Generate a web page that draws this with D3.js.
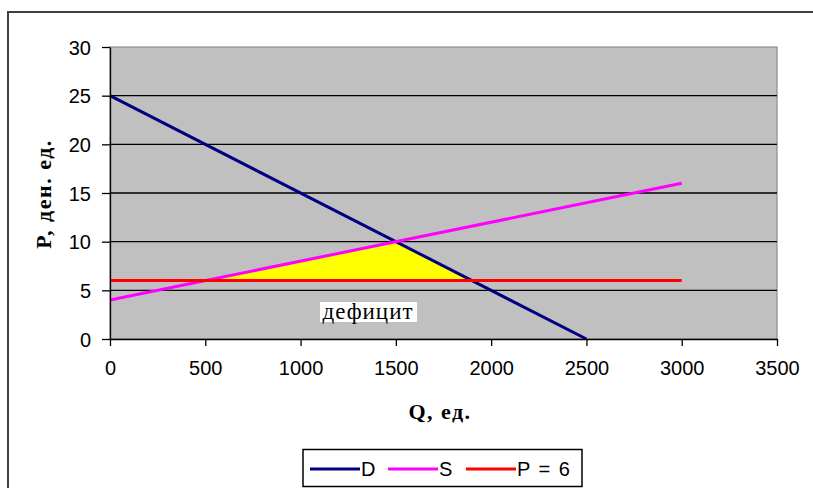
<!DOCTYPE html>
<html lang="ru">
<head>
<meta charset="UTF-8">
<title>Дефицит</title>
<script src="https://d3js.org/d3.v7.min.js"></script>
<style>
  body { margin: 0; padding: 0; background: #fff; }
  svg { display: block; }
  .tick text { font-family: "Liberation Sans", Arial, sans-serif; font-size: 20px; fill: #000; }
</style>
</head>
<body>
<div id="chart"></div>
<script>
// demand, supply, fixed price
const qD = [0, 2500];
const pD = [25, 0];
const qS = [0, 3000];
const pS = [4, 16];
const qFix = [0, 3000];
const pFix = [6, 6];
// deficit triangle (between S, D and P = 6)
const qDef = [500, 1500, 1900];
const pDef = [6, 10, 6];

const xTicks = [0, 500, 1000, 1500, 2000, 2500, 3000, 3500];
const yTicks = [0, 5, 10, 15, 20, 25, 30];

const series = [
  {name: "D", q: qD, p: pD, color: "#000080"},
  {name: "S", q: qS, p: pS, color: "#ff00ff"},
  {name: "P = 6", q: qFix, p: pFix, color: "#ff0000"}
];

const W = 813, H = 488;
const plot = {left: 110, top: 47, right: 777, bottom: 339};

const svg = d3.select("#chart").append("svg")
  .attr("width", W).attr("height", H);

// outer chart border (runs off the right and bottom edges)
svg.append("rect")
  .attr("x", 8).attr("y", 12)
  .attr("width", 840).attr("height", 500)
  .attr("fill", "#fff")
  .attr("stroke", "#404040").attr("stroke-width", 2);

const x = d3.scaleLinear().domain([0, 3500]).range([plot.left, plot.right]);
const y = d3.scaleLinear().domain([0, 30]).range([plot.bottom, plot.top]);

// plot area
svg.append("rect")
  .attr("x", plot.left).attr("y", plot.top)
  .attr("width", plot.right - plot.left).attr("height", plot.bottom - plot.top)
  .attr("fill", "#c0c0c0")
  .attr("stroke", "#8c8c8c").attr("stroke-width", 1.2);

// horizontal gridlines
svg.append("g")
  .selectAll("line")
  .data(yTicks.filter(d => d > 0 && d < 30))
  .join("line")
  .attr("x1", plot.left).attr("x2", plot.right)
  .attr("y1", d => y(d)).attr("y2", d => y(d))
  .attr("stroke", "#000").attr("stroke-width", 1.3);

// deficit area
const defPts = qDef.map((q, i) => [x(q), y(pDef[i])]);
svg.append("path")
  .attr("d", d3.line()(defPts) + "Z")
  .attr("fill", "#ffff00");

// lines
const line = d3.line();
svg.append("g")
  .selectAll("path")
  .data(series)
  .join("path")
  .attr("d", s => line(s.q.map((q, i) => [x(q), y(s.p[i])])))
  .attr("fill", "none")
  .attr("stroke", s => s.color)
  .attr("stroke-width", 3);

// axes
const xAxis = svg.append("g")
  .attr("transform", `translate(0,${plot.bottom})`)
  .call(d3.axisBottom(x).tickValues(xTicks).tickSize(7).tickPadding(15).tickSizeOuter(0).tickFormat(d3.format("d")));
const yAxis = svg.append("g")
  .attr("transform", `translate(${plot.left},0)`)
  .call(d3.axisLeft(y).tickValues(yTicks).tickSize(8).tickPadding(11).tickSizeOuter(0));
[xAxis, yAxis].forEach(a => {
  a.select(".domain").attr("stroke", "#000").attr("stroke-width", 1.3);
  a.selectAll(".tick line").attr("stroke", "#000").attr("stroke-width", 1.3);
});
yAxis.selectAll(".tick text").attr("dy", "0.36em");

// axis titles
svg.append("text")
  .attr("x", 440).attr("y", 419)
  .attr("text-anchor", "middle")
  .style("font-family", "'Liberation Serif', 'Times New Roman', serif")
  .style("font-weight", "bold").style("font-size", "22px")
  .style("letter-spacing", "1.5px")
  .text("Q, ед.");

svg.append("text")
  .attr("transform", "translate(51,194) rotate(-90)")
  .attr("text-anchor", "middle")
  .style("font-family", "'Liberation Serif', 'Times New Roman', serif")
  .style("font-weight", "bold").style("font-size", "22px")
  .style("letter-spacing", "1.5px")
  .text("P, ден. ед.");

// "дефицит" label on a white box
const lblG = svg.append("g");
lblG.append("rect")
  .attr("x", 320).attr("y", 302).attr("width", 97).attr("height", 20)
  .attr("fill", "#fff");
lblG.append("text")
  .attr("x", 368).attr("y", 319)
  .attr("text-anchor", "middle")
  .style("font-family", "'Liberation Serif', 'Times New Roman', serif")
  .style("font-size", "23px")
  .style("letter-spacing", "1px")
  .text("дефицит");

// legend
const legend = svg.append("g");
legend.append("rect")
  .attr("x", 303).attr("y", 449.5)
  .attr("width", 279).attr("height", 37)
  .attr("fill", "#fff")
  .attr("stroke", "#000").attr("stroke-width", 1.5);
const legX = [310, 388, 466];
const item = legend.selectAll("g.item")
  .data(series)
  .join("g")
  .attr("class", "item")
  .attr("transform", (d, i) => `translate(${legX[i]},469)`);
item.append("line")
  .attr("x1", 0).attr("x2", 50)
  .attr("stroke", d => d.color).attr("stroke-width", 3);
item.append("text")
  .attr("x", 51).attr("dy", "0.36em")
  .style("font-family", "'Liberation Sans', Arial, sans-serif")
  .style("font-size", "20px")
  .style("letter-spacing", "1.5px")
  .text(d => d.name);
</script>
</body>
</html>
